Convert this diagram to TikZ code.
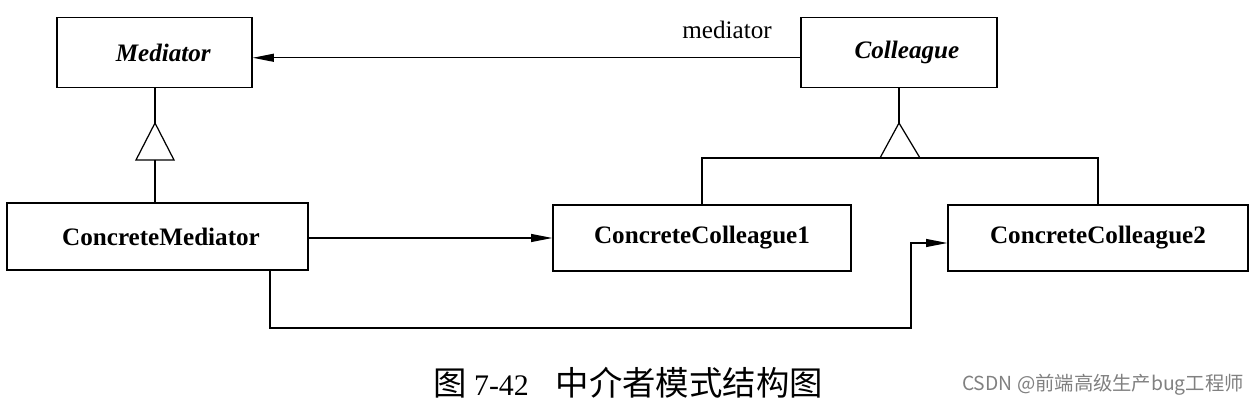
\documentclass[tikz,border=0pt]{standalone}
\usepackage{fontspec}
\setmainfont{Liberation Serif}
\newfontfamily\cjk{Noto Sans CJK SC}
\usetikzlibrary{arrows.meta}
\tikzset{
	cls/.style={draw=black, line width=0.8pt, minimum height=0.02*70cm, font=\fontsize{14.3}{16}\selectfont\bfseries, inner sep=0pt},
	arr/.style={black, line width=0.7pt, -{Triangle[length=12pt,width=4.5pt]}},
	lnk/.style={black, line width=0.7pt}
}
\begin{document}
\begin{tikzpicture}[x=0.02cm, y=-0.02cm]
		\useasboundingbox (0,0) rectangle (1260,408);
		
		\node[cls, minimum width=0.02*195cm] (med) at (154.5,52.5) {\hspace*{10pt}\itshape Mediator};
		\node[cls, minimum width=0.02*196cm] (col) at (899,52.5) {\hspace*{9pt}\itshape Colleague};
		\node[cls, minimum width=0.02*301cm, minimum height=0.02*67cm] (cmed) at (157.5,236.5) {\hspace*{4pt}ConcreteMediator};
		\node[cls, minimum width=0.02*298cm, minimum height=0.02*66cm] (cc1) at (702,238) {ConcreteColleague1};
		\node[cls, minimum width=0.02*300cm, minimum height=0.02*66cm] (cc2) at (1098,238) {ConcreteColleague2};
		
		\node[font=\fontsize{14.3}{16}\selectfont] (lbl) at (727,30) {mediator};
		
		% mediator association
		\draw[arr] ([yshift=-3pt]col.west) -- ([yshift=-3pt]med.east);
		
		% inheritance Mediator
		\coordinate (mtop) at (155,123);
		\coordinate (mbase) at (155,160);
		\draw[lnk] (mtop |- med.south) -- (mtop);
		\draw[lnk] (mtop) -- (136,160) -- (174,160) -- cycle;
		\draw[lnk] (mbase) -- (mbase |- cmed.north);
		
		% inheritance Colleague
		\coordinate (ctop) at (899,123);
		\coordinate (cbase) at (899,158);
		\draw[lnk] (ctop |- col.south) -- (ctop);
		\draw[lnk] (ctop) -- (880,158) -- (920,158) -- cycle;
		\draw[lnk] (cc1.north) -- (cc1.north |- cbase) -- (cc2.north |- cbase) -- (cc2.north);
		
		% ConcreteMediator to colleagues
		\draw[arr] (cmed.east |- cc1.west) -- (cc1.west);
		\coordinate (lo1) at (270,328);
		\coordinate (lo2) at (911,243);
		\draw[arr] (lo1 |- cmed.south) -- (lo1) -| (lo2) -- (lo2 -| cc2.west);
		
		\node[font=\fontsize{17}{20}\selectfont] (cap) at (628,383) {{\fontsize{19}{20}\selectfont\cjk 图} 7-42\hspace{0.9em}{\fontsize{19}{20}\selectfont\cjk 中介者模式结构图}};
		\node[font=\fontsize{11}{13}\selectfont\cjk, text=black!50] (wm) at (1103,385) {CSDN @前端高级生产bug工程师};
\end{tikzpicture}
\end{document}
